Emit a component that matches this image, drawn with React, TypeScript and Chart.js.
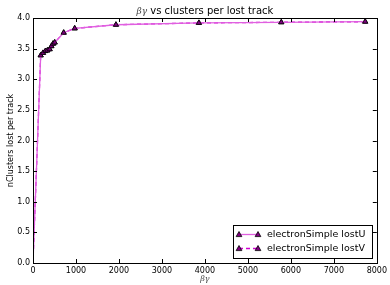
import React, { useEffect, useRef } from "react";
import { Chart, registerables } from "chart.js";

Chart.register(...registerables);

const betaGamma = [0, 179, 233, 288, 335, 388, 428, 465, 505, 714, 970, 1930, 3860, 5777, 7730];
const lostU = [0, 3.39, 3.43, 3.46, 3.47, 3.49, 3.54, 3.58, 3.6, 3.76, 3.83, 3.89, 3.92, 3.93, 3.94];
const lostV = [0, 3.39, 3.43, 3.46, 3.47, 3.49, 3.54, 3.58, 3.6, 3.76, 3.83, 3.89, 3.92, 3.93, 3.94];
const seriesNames = ["electronSimple lostU", "electronSimple lostV"];
const xTicks = [0, 1000, 2000, 3000, 4000, 5000, 6000, 7000, 8000];
const yTicks = [0, 0.5, 1.0, 1.5, 2.0, 2.5, 3.0, 3.5, 4.0];

const FONT = "'DejaVu Sans', sans-serif";
const MARKER_FILL = "#800080";
const MARKER_R = 3;

const framePlugin = {
  id: "framePlugin",
  afterDatasetsDraw(chart: any) {
    const { ctx, chartArea } = chart;
    const { left, right, top, bottom } = chartArea;
    const xs = chart.scales.x;
    const ys = chart.scales.y;
    ctx.save();
    ctx.strokeStyle = "#000";
    ctx.lineWidth = 1;
    ctx.strokeRect(Math.round(left) + 0.5, Math.round(top) + 0.5, Math.round(right - left), Math.round(bottom - top));
    const tl = 4;
    ctx.beginPath();
    xTicks.forEach((v) => {
      const px = Math.round(xs.getPixelForValue(v)) + 0.5;
      ctx.moveTo(px, bottom);
      ctx.lineTo(px, bottom - tl);
      ctx.moveTo(px, top);
      ctx.lineTo(px, top + tl);
    });
    yTicks.forEach((v) => {
      const py = Math.round(ys.getPixelForValue(v)) + 0.5;
      ctx.moveTo(left, py);
      ctx.lineTo(left + tl, py);
      ctx.moveTo(right, py);
      ctx.lineTo(right - tl, py);
    });
    ctx.stroke();

    // Title
    const cx = (left + right) / 2;
    const titleRest = " vs clusters per lost track";
    ctx.fillStyle = "#000";
    ctx.textBaseline = "alphabetic";
    ctx.font = `italic 9px 'DejaVu Serif', serif`;
    const wbg = ctx.measureText("βγ").width;
    ctx.font = `10px ${FONT}`;
    const wr = ctx.measureText(titleRest).width;
    const startX = cx - (wbg + wr) / 2;
    ctx.textAlign = "left";
    ctx.font = `italic 9px 'DejaVu Serif', serif`;
    ctx.fillStyle = "#444";
    ctx.fillText("βγ", startX, 14);
    ctx.fillStyle = "#000";
    ctx.font = `10px ${FONT}`;
    ctx.fillText(titleRest, startX + wbg, 14);

    // X label
    ctx.font = `italic 8px 'DejaVu Serif', serif`;
    ctx.textAlign = "center";
    ctx.textBaseline = "middle";
    ctx.fillStyle = "#444";
    ctx.fillText("βγ", cx, 279);

    // Y label
    ctx.save();
    ctx.translate(11, (top + bottom) / 2);
    ctx.rotate(-Math.PI / 2);
    ctx.font = `8px ${FONT}`;
    ctx.fillStyle = "#000";
    ctx.textAlign = "center";
    ctx.textBaseline = "middle";
    ctx.fillText("nClusters lost per track", 0, 0);
    ctx.restore();

    // Legend
    const lx = 233.5, ly = 225.5, lw = 139, lh = 33;
    ctx.fillStyle = "#fff";
    ctx.fillRect(lx, ly, lw, lh);
    ctx.strokeStyle = "#000";
    ctx.lineWidth = 1;
    ctx.strokeRect(lx, ly, lw, lh);
    const rows = [234.5, 248.5];
    chart.data.datasets.forEach((ds: any, i: number) => {
      const y = rows[i];
      ctx.save();
      ctx.strokeStyle = ds.borderColor;
      ctx.lineWidth = ds.borderWidth;
      ctx.setLineDash(ds.borderDash || []);
      ctx.beginPath();
      ctx.moveTo(239, y);
      ctx.lineTo(258, y);
      ctx.stroke();
      ctx.restore();
      [239, 258].forEach((mx) => {
        ctx.save();
        ctx.fillStyle = MARKER_FILL;
        ctx.strokeStyle = "#000";
        ctx.lineWidth = 0.8;
        ctx.beginPath();
        const r = MARKER_R;
        ctx.moveTo(mx, y - r);
        ctx.lineTo(mx + r * 0.95, y + r * 0.7);
        ctx.lineTo(mx - r * 0.95, y + r * 0.7);
        ctx.closePath();
        ctx.fill();
        ctx.stroke();
        ctx.restore();
      });
      ctx.fillStyle = "#000";
      ctx.font = `9.5px ${FONT}`;
      ctx.textAlign = "left";
      ctx.textBaseline = "middle";
      ctx.fillText(seriesNames[i], 267, y);
    });
    ctx.restore();
  },
};

export default function App() {
  const ref = useRef<HTMLCanvasElement | null>(null);
  useEffect(() => {
    if (!ref.current) return;
    const pointR = (c: any) => (c.raw && c.raw.y === 0 ? 0 : MARKER_R);
    const chart = new Chart(ref.current, {
      type: "scatter",
      data: {
        datasets: [
          {
            label: seriesNames[0],
            data: betaGamma.map((x, i) => ({ x, y: lostU[i] })),
            showLine: true,
            borderColor: "#e060e0",
            borderWidth: 1.3,
            pointStyle: "triangle",
            pointRadius: pointR,
            pointBackgroundColor: MARKER_FILL,
            pointBorderColor: "#000",
            pointBorderWidth: 0.8,
          },
          {
            label: seriesNames[1],
            data: betaGamma.map((x, i) => ({ x, y: lostV[i] })),
            showLine: true,
            borderColor: "#d000d0",
            borderWidth: 1.3,
            borderDash: [4, 3],
            pointStyle: "triangle",
            pointRadius: pointR,
            pointBackgroundColor: MARKER_FILL,
            pointBorderColor: "#000",
            pointBorderWidth: 0.8,
          },
        ],
      },
      options: {
        animation: false,
        responsive: false,
        maintainAspectRatio: false,
        layout: { padding: { top: 18, right: 13, left: 0, bottom: 0 } },
        plugins: {
          legend: { display: false },
          title: { display: false },
          tooltip: { enabled: false },
        },
        scales: {
          x: {
            type: "linear",
            min: 0,
            max: 8000,
            afterBuildTicks: (s: any) => {
              s.ticks = xTicks.map((v) => ({ value: v }));
            },
            afterFit: (s: any) => {
              s.height = 22;
            },
            ticks: {
              font: { family: FONT, size: 8 },
              color: "#000",
              padding: 3,
              maxRotation: 0,
              autoSkip: false,
              callback: (v: any) => String(v),
            },
            grid: { display: false, drawTicks: false },
            border: { display: false },
          },
          y: {
            type: "linear",
            min: 0,
            max: 4,
            afterBuildTicks: (s: any) => {
              s.ticks = yTicks.map((v) => ({ value: v }));
            },
            afterFit: (s: any) => {
              s.width = 33;
            },
            ticks: {
              font: { family: FONT, size: 8 },
              color: "#000",
              padding: 3,
              autoSkip: false,
              callback: (v: any) => Number(v).toFixed(1),
            },
            grid: { display: false, drawTicks: false },
            border: { display: false },
          },
        },
      },
      plugins: [framePlugin],
    });
    return () => chart.destroy();
  }, []);
  return (
    <div style={{ position: "fixed", left: 0, top: 0, width: 390, height: 285, background: "#fff" }}>
      <canvas ref={ref} width={390} height={285} style={{ width: 390, height: 285, display: "block" }} />
    </div>
  );
}
